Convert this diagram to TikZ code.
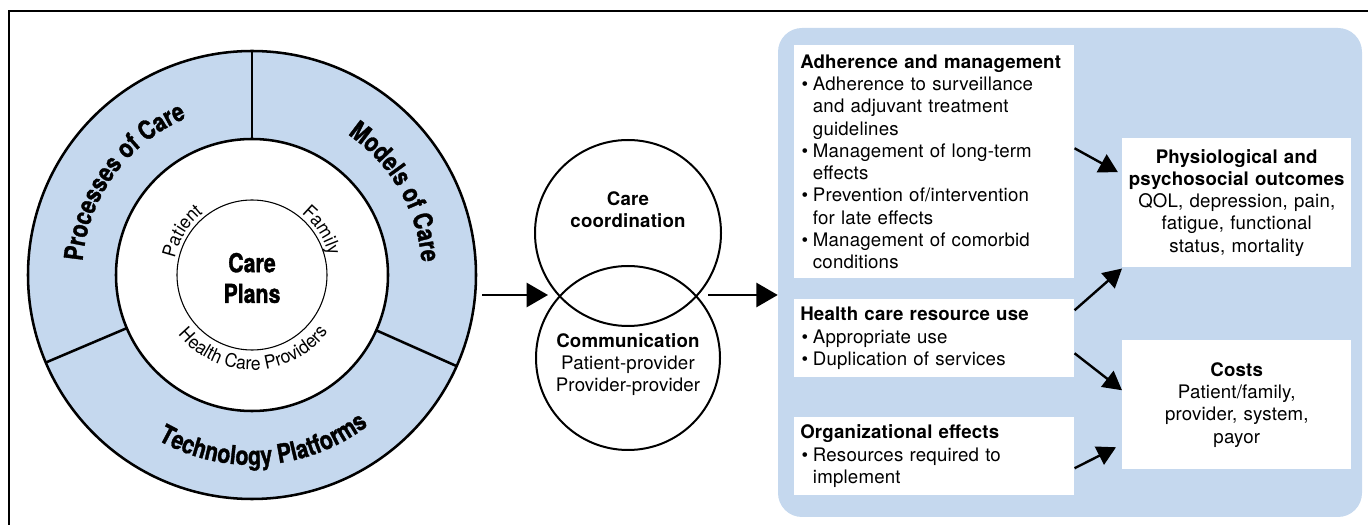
\documentclass[tikz,border=0pt]{standalone}
\usepackage{fontspec}
\setmainfont{TeX Gyre Heros}[LetterSpace=1]
\newfontfamily\condfont{TeX Gyre Heros}[FakeStretch=0.82,BoldFeatures={FakeBold=1.3}]
\newfontfamily\narrowfont{TeX Gyre Heros}[FakeStretch=0.94]
\usetikzlibrary{arrows.meta,calc,decorations.text}
\definecolor{PanelClr}{RGB}{197,216,238}
\setlength{\parindent}{0pt}
\setlength{\parskip}{0pt}
% bullet items for the list boxes, \cont starts an indented wrapped line
\newcommand{\bitem}{\par\leavevmode\hbox to 9.5pt{\hspace{1pt}\textbullet\hss}}
\newcommand{\cont}{\par\leavevmode\hbox to 9.5pt{\hss}}
\newcommand{\ringlbl}{\condfont\bfseries\fontsize{19.5}{23}\selectfont}
\newcommand{\circlbl}{\narrowfont\fontsize{14}{16}\selectfont}

\begin{document}
\begin{tikzpicture}[x=0.75pt,y=0.75pt,
  font=\fontsize{14}{16.7}\selectfont,
  ring/.style={line width=1.9pt},
  venn/.style={line width=1.5pt},
  arr/.style={line width=2pt,-{Triangle[length=16pt,width=18pt]}},
  subarr/.style={line width=1.8pt,-{Triangle[length=14pt,width=15pt]}},
  outbox/.style={fill=white,inner xsep=4.5pt,inner ysep=0pt,text width=201pt,
    execute at begin node={\raggedright},minimum height=#1},
  resbox/.style={fill=white,inner xsep=1.5pt,inner ysep=0pt,text width=168.75pt,align=center,minimum height=96.75pt},
  arclbl/.style={decorate,decoration={text along path,text align=center,text={#1}}}]
\useasboundingbox (0,0) rectangle (1368,525);
\draw[line width=0.8pt] (9,0) |- (1368,514);

% ring of care
\coordinate (C) at (252,250);
\fill[PanelClr] (C) circle (224);
\fill[white] (C) circle (136);
\draw[ring] (C) circle (224) (C) circle (136);
\draw[line width=0.8pt] (C) circle (75);
\foreach \a in {90,203,336}
  \draw[ring] ($(C)+(\a:136)$) -- ($(C)+(\a:224)$);

\path[arclbl={|\ringlbl|Processes of Care}] ($(C)+(199:170)$) arc[start angle=199,end angle=89,radius=170];
\path[arclbl={|\ringlbl|Models of Care}] ($(C)+(85:170)$) arc[start angle=85,end angle=-25,radius=170];
\path[arclbl={|\ringlbl|Technology Platforms}] ($(C)+(219:190)$) arc[start angle=219,end angle=329,radius=190];
\path[arclbl={|\circlbl|Patient}] ($(C)+(175:79)$) arc[start angle=175,end angle=121,radius=79];
\path[arclbl={|\circlbl|Family}] ($(C)+(60:79)$) arc[start angle=60,end angle=5,radius=79];
\path[arclbl={|\circlbl|Health Care Providers}] ($(C)+(200:95)$) arc[start angle=200,end angle=342,radius=95];
\node[font=\ringlbl,align=center] (plans) at (252,247) {Care\\Plans};

% coordination / communication
\draw[venn] (628,292) circle (93) (628,167) circle (92);
\node[font=\bfseries\fontsize{14}{16.7}\selectfont,align=center] (coord) at (628,315) {Care\\coordination};
\node[align=center] (comm) at (628,160.5) {\textbf{Communication}\\Patient-provider\\Provider-provider};

\coordinate (ringout) at (482,230);
\coordinate (vennL) at (548,230);
\coordinate (vennR) at (708,230);
\draw[arr] (ringout) -- (vennL);

% outcomes panel
\node[fill=PanelClr,rounded corners=18pt,minimum width=438pt,minimum height=366.75pt] (panel) at (1070,252.5) {};
\draw[arr] (vennR) -- (panel.west |- vennR);

\node[outbox=174.75pt,anchor=north west] (adh) at (794,480) {\textbf{Adherence and management}%
  \bitem Adherence to surveillance\cont and adjuvant treatment\cont guidelines%
  \bitem Management of long-term\cont effects%
  \bitem Prevention of/intervention\cont for late effects%
  \bitem Management of comorbid\cont conditions};
\node[outbox=58.5pt,anchor=north west] (hcr) at (794,226) {\textbf{Health care resource use}%
  \bitem Appropriate use%
  \bitem Duplication of services};
\node[outbox=58.5pt,anchor=north west] (org) at (794,108) {\textbf{Organizational effects}%
  \bitem Resources required to\cont implement};
\node[resbox,anchor=north west] (phys) at (1122,387) {\textbf{Physiological and}\\\textbf{psychosocial outcomes}\\QOL, depression, pain,\\fatigue, functional\\status, mortality};
\node[resbox,anchor=north west] (costs) at (1122,185) {\textbf{Costs}\\Patient/family,\\provider, system,\\payor};

\draw[subarr] ($(adh.east)+(0,13.5)$) -- ($(phys.west)+(-4,30.5)$);
\draw[subarr] ($(hcr.east)+(0,28)$) -- ($(phys.south west)+(0,-1)$);
\draw[subarr] ($(hcr.east)+(0,-15)$) -- ($(costs.west)+(0,14.5)$);
\draw[subarr] ($(org.east)+(0,-12)$) -- ($(costs.west)+(-6,-42.5)$);
\end{tikzpicture}
\end{document}
